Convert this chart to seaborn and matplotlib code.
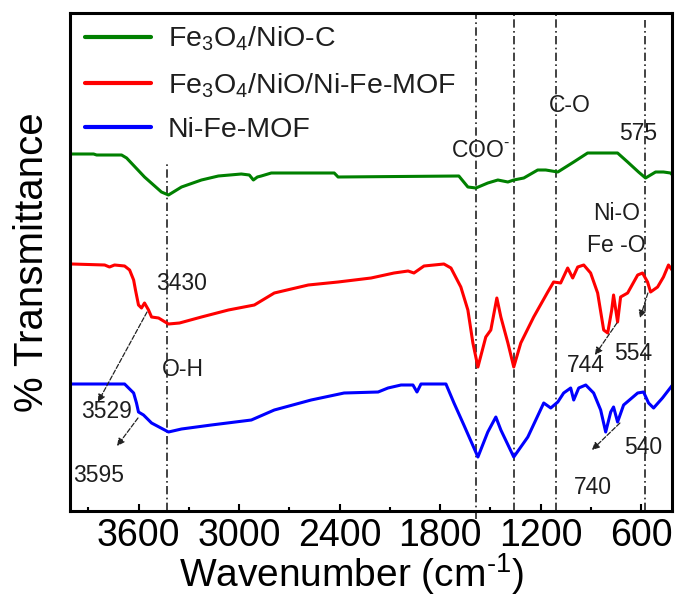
import numpy as np
import pandas as pd
import matplotlib
matplotlib.use("Agg")
import matplotlib.pyplot as plt
from matplotlib.ticker import MultipleLocator
import seaborn as sns

# ---------------- data ----------------
green_wn = [4000, 3869, 3851, 3702, 3672, 3565, 3464, 3422, 3344, 3225, 3124, 2987, 2939,
            2915, 2891, 2868, 2808, 2432, 2409, 1688, 1634, 1586, 1515, 1455, 1395, 1360,
            1300, 1217, 1169, 1097, 1002, 919, 740, 680, 615, 573, 513, 466, 424, 400]
green_t = [356, 356, 355, 355, 352, 333, 318, 315, 323, 330, 334, 336, 335,
           330, 333, 334, 337, 337, 333, 334, 323, 322, 327, 330, 328, 330,
           332, 340, 340, 338, 348, 357, 357, 348, 338, 332, 338, 338, 337, 333]

red_wn = [4000, 3803, 3774, 3744, 3684, 3654, 3630, 3619, 3601, 3583, 3565, 3541, 3523,
          3481, 3422, 3356, 3225, 3064, 2909, 2790, 2587, 2409, 2212, 2075, 1991, 1956,
          1896, 1777, 1735, 1676, 1634, 1604, 1574, 1527, 1497, 1461, 1437, 1395, 1360,
          1318, 1241, 1157, 1122, 1080, 1038, 1008, 978, 942, 901, 859, 823, 799, 775,
          764, 740, 722, 680, 620, 591, 561, 543, 501, 466, 436, 406, 400]
red_t = [246, 245, 243, 245, 244, 240, 230, 220, 205, 202, 207, 200, 193,
         192, 186, 187, 193, 200, 205, 217, 225, 228, 232, 237, 239, 237,
         244, 246, 242, 223, 200, 167, 143, 173, 180, 212, 193, 167, 143,
         167, 193, 218, 228, 227, 242, 232, 243, 245, 237, 217, 180, 177, 200,
         215, 188, 213, 217, 235, 237, 228, 218, 223, 233, 245, 238, 238]

blue_wn = [4000, 3684, 3630, 3613, 3601, 3571, 3523, 3422, 3344, 3166, 2927, 2790, 2570,
           2373, 2170, 2111, 2033, 1962, 1938, 1914, 1765, 1717, 1658, 1574, 1515, 1467,
           1437, 1360, 1276, 1181, 1139, 1097, 1062, 1020, 1002, 972, 930, 883, 841, 811,
           781, 764, 740, 704, 620, 585, 555, 525, 472, 412, 400]
blue_t = [126, 126, 117, 107, 98, 95, 87, 78, 81, 85, 90, 100, 110,
          117, 118, 122, 125, 125, 118, 126, 126, 107, 85, 53, 78, 93,
          80, 53, 73, 107, 102, 108, 117, 122, 110, 122, 125, 117, 100, 78,
          98, 103, 88, 105, 117, 118, 107, 102, 112, 125, 127]

series_labels = ["Fe$_3$O$_4$/NiO-C", "Fe$_3$O$_4$/NiO/Ni-Fe-MOF", "Ni-Fe-MOF"]
series_colors = ["#008000", "#ff0000", "#0000ff"]

xtick_values = [3600, 3000, 2400, 1800, 1200, 600]

# marker lines (wavenumber)
oh_line = 3430
band_lines = [1585, 1360, 1110, 575]

# annotation texts: (text, wavenumber, transmittance)
notes = [("COO$^{\\text{-}}$", 1560, 360), ("C-O", 1024, 405), ("575", 618, 377),
         ("Ni-O", 744, 297), ("Fe -O", 750, 265), ("744", 929, 144),
         ("554", 648, 156), ("540", 589, 63), ("740", 887, 22),
         ("3430", 3341, 227), ("O-H", 3335, 140), ("3529", 3789, 98),
         ("3595", 3837, 35)]
# arrows: (start wn, start t, end wn, end t)
arrows = [(3550, 198, 3843, 108), (3604, 92, 3729, 64), (744, 187, 875, 155),
          (559, 217, 606, 192), (726, 87, 893, 60)]

# ---------------- style ----------------
sns.set_theme(style="white")
plt.rcParams["font.family"] = ["Liberation Sans", "DejaVu Sans"]
plt.rcParams["mathtext.fontset"] = "custom"
plt.rcParams["mathtext.rm"] = "Liberation Sans"
plt.rcParams["mathtext.it"] = "Liberation Sans:italic"
plt.rcParams["mathtext.bf"] = "Liberation Sans:bold"
plt.rcParams["mathtext.default"] = "regular"

fig = plt.figure(figsize=(6.76, 5.99), dpi=100)
ax = fig.add_axes([70 / 676, 88 / 599, 602 / 676, 498 / 599])

frames = []
for wn, t, lab in zip([green_wn, red_wn, blue_wn], [green_t, red_t, blue_t], series_labels):
    frames.append(pd.DataFrame({"wn": wn, "t": t, "sample": lab}))
df = pd.concat(frames, ignore_index=True)

for lab, col in zip(series_labels, series_colors):
    sub = df[df["sample"] == lab]
    sns.lineplot(data=sub, x="wn", y="t", color=col, lw=2.2, sort=False,
                 estimator=None, label=lab, ax=ax)

ax.set_xlim(4010, 415)
ax.set_ylim(-1, 497)

dash = (0, (5, 2, 1, 2))
ax.plot([oh_line, oh_line], [-1, 347], color="#222222", lw=1.2, ls=dash, zorder=1)
for i, b in enumerate(band_lines):
    top = 490 if b == 575 else 497
    bottom = -9 if i == 0 else -1
    ax.plot([b, b], [bottom, top], color="#222222", lw=1.2, ls=dash, zorder=1,
            clip_on=False)

for txt, x, y in notes:
    ax.text(x, y, txt, fontsize=16.5, color="#1e1e1e", ha="center", va="center")

for x0, y0, x1, y1 in arrows:
    ax.annotate("", xy=(x1, y1), xytext=(x0, y0),
                arrowprops=dict(arrowstyle="-|>", lw=0.9, ls="--", color="#222222",
                                mutation_scale=11, shrinkA=0, shrinkB=0))

ax.xaxis.set_major_locator(MultipleLocator(600))
ax.xaxis.set_minor_locator(MultipleLocator(300))
ax.set_xticks(xtick_values)
ax.set_xticklabels([str(v) for v in xtick_values])
ax.set_yticks([])
ax.tick_params(axis="x", which="major", direction="in", length=5, width=1.5,
               labelsize=27, pad=5, bottom=True, top=False, colors="black")
ax.tick_params(axis="x", which="minor", direction="in", length=3, width=1.5,
               bottom=True, top=False)
ax.tick_params(axis="x", which="both", color="black")
for s in ax.spines.values():
    s.set_visible(True)
    s.set_linewidth(2.2)
    s.set_color("black")

ax.set_xlabel("Wavenumber (cm$^{\\text{-1}}$)", fontsize=28, color="black")
ax.xaxis.set_label_coords(0.468, -0.08)
ax.set_ylabel("% Transmittance", fontsize=29, labelpad=14, color="black")

leg = ax.legend(loc="upper left", bbox_to_anchor=(0.025, 0.976), frameon=False,
                fontsize=20.5, handlelength=2.3, handletextpad=0.6,
                labelspacing=0.62, borderpad=0, borderaxespad=0)
for line in leg.get_lines():
    line.set_linewidth(3)
for t in leg.get_texts():
    t.set_color("#1e1e1e")

fig.savefig("out.png", dpi=100)
